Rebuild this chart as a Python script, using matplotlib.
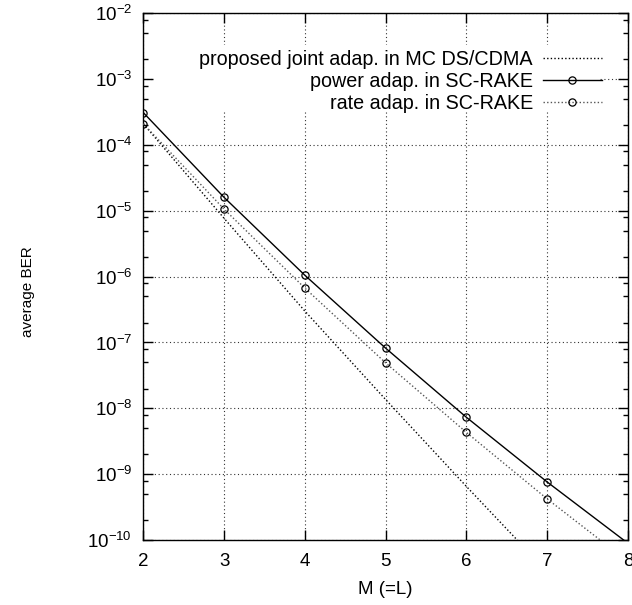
import matplotlib
matplotlib.use("Agg")
import matplotlib.pyplot as plt
from matplotlib.patches import Rectangle
from matplotlib.ticker import LogLocator, FixedLocator, NullFormatter

plt.rcParams['font.family'] = ['Liberation Sans', 'DejaVu Sans']
plt.rcParams['mathtext.default'] = 'regular'

# Number of branches / carriers
M = [2, 3, 4, 5, 6, 7, 8]

# Average BER of each scheme
ber_proposed = [2.1e-4, 7.7e-6, 3.0e-7, 1.36e-8, 6.5e-10, 3.3e-11, 1.7e-12]
ber_power = [3.1e-4, 1.6e-5, 1.05e-6, 8.2e-8, 7.3e-9, 7.6e-10, 8.9e-11]
ber_rate = [2.1e-4, 1.06e-5, 6.7e-7, 4.9e-8, 4.3e-9, 4.2e-10, 4.7e-11]

labels = ["proposed joint adap. in MC DS/CDMA",
          "power adap. in SC-RAKE",
          "rate adap. in SC-RAKE"]

y_ticks = [10.0 ** e for e in range(-10, -1)]
y_ticklabels = ["$10^{%d}$" % e for e in range(-10, -1)]

fig = plt.figure(figsize=(6.32, 6.05), dpi=100)
ax = fig.add_axes([143.3 / 632, 65 / 605, 484.7 / 632, 526.7 / 605])
ax.set_yscale('log')
ax.set_xlim(2, 8)
ax.set_ylim(1e-10, 1e-2)
ax.set_axisbelow(True)

FS = 13.5

ax.grid(True, which='major', color='#333333', linestyle=(0, (1, 2.4)), linewidth=0.8)

# blank area behind the key
ax.add_patch(Rectangle((0.022, 0.813), 0.92, 0.127, transform=ax.transAxes,
                       facecolor='white', edgecolor='none', zorder=1))

l1, = ax.plot(M, ber_proposed, color='black', linestyle=(0, (1, 1.6)), linewidth=1.0,
              zorder=3, label=labels[0])
l2, = ax.plot(M[:-1], ber_power[:-1], color='black', linestyle='-', linewidth=1.0,
              marker='o', markersize=5.2, markerfacecolor='none', markeredgewidth=0.9,
              zorder=3, label=labels[1])
ax.plot(M[-2:], ber_power[-2:], color='black', linestyle='-', linewidth=1.0, zorder=3)
l3, = ax.plot(M[:-1], ber_rate[:-1], color='#555555', linestyle=(0, (1, 1.6)), linewidth=1.0,
              marker='o', markersize=5.2, markerfacecolor='none', markeredgecolor='black',
              markeredgewidth=0.9, zorder=3, label=labels[2])
ax.plot(M[-2:], ber_rate[-2:], color='#555555', linestyle=(0, (1, 1.6)), linewidth=1.0, zorder=3)

ax.set_xticks(M)
ax.set_xticklabels([str(m) for m in M])
ax.yaxis.set_major_locator(FixedLocator(y_ticks))
ax.set_yticklabels(y_ticklabels)
ax.yaxis.set_minor_locator(LogLocator(base=10, subs=(2.0, 5.0, 8.0), numticks=30))
ax.yaxis.set_minor_formatter(NullFormatter())

ax.tick_params(axis='both', which='major', direction='in', length=7, width=1,
               top=True, right=True, labelsize=FS)
ax.tick_params(axis='y', which='major', pad=8)
ax.tick_params(axis='x', which='major', pad=9)
ax.tick_params(axis='y', which='minor', direction='in', length=3.5, width=1,
               left=True, right=True)
ax.tick_params(axis='x', which='minor', bottom=False, top=False)
for s in ax.spines.values():
    s.set_linewidth(1.0)

leg = ax.legend(handles=[l1, l2, l3], loc='upper right', bbox_to_anchor=(0.946, 0.931),
                frameon=False, markerfirst=False, fontsize=14.2, handlelength=3.0,
                handletextpad=0.5, labelspacing=0.16, borderpad=0.0, borderaxespad=0.0)

ax.set_xlabel("M (=L)", fontsize=FS, labelpad=8)
fig.text(28 / 632, 1 - 292 / 605, "average BER", rotation=90, fontsize=11,
         ha='center', va='center')

fig.savefig("out.png", dpi=100)
